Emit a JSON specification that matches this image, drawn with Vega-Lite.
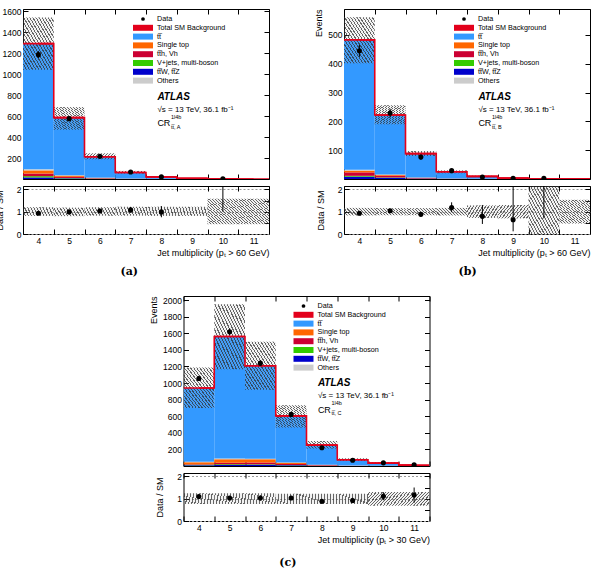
{
  "$schema": "https://vega.github.io/schema/vega-lite/v6.json",
  "padding": {"left": -12, "top": 6, "right": 0, "bottom": 0},
  "datasets": {
    "regionA": [
      {"bin": 4, "ttbar": 1198, "singletop": 30, "tth": 25, "vjets": 12, "ttv": 15, "others": 10, "sm": 1290, "smLo": 1040, "smHi": 1540, "data": 1185, "dataLo": 1151, "dataHi": 1219, "ratio": 0.93, "ratioLo": 0.9, "ratioHi": 0.96, "bandLo": 0.81, "bandHi": 1.2},
      {"bin": 5, "ttbar": 549, "singletop": 12, "tth": 10, "vjets": 4, "ttv": 6, "others": 4, "sm": 585, "smLo": 470, "smHi": 685, "data": 575, "dataLo": 551, "dataHi": 599, "ratio": 0.99, "ratioLo": 0.95, "ratioHi": 1.03, "bandLo": 0.8, "bandHi": 1.18},
      {"bin": 6, "ttbar": 199, "singletop": 4, "tth": 4, "vjets": 1.5, "ttv": 2, "others": 1.5, "sm": 212, "smLo": 188, "smHi": 245, "data": 216, "dataLo": 201, "dataHi": 231, "ratio": 1.03, "ratioLo": 0.96, "ratioHi": 1.1, "bandLo": 0.82, "bandHi": 1.2},
      {"bin": 7, "ttbar": 57.6, "singletop": 1.2, "tth": 1.5, "vjets": 0.5, "ttv": 0.7, "others": 0.5, "sm": 62, "smLo": 52, "smHi": 77, "data": 66, "dataLo": 58, "dataHi": 74, "ratio": 1.08, "ratioLo": 0.95, "ratioHi": 1.21, "bandLo": 0.82, "bandHi": 1.22},
      {"bin": 8, "ttbar": 18.4, "singletop": 0.4, "tth": 0.5, "vjets": 0.2, "ttv": 0.3, "others": 0.2, "sm": 20, "smLo": 15, "smHi": 26, "data": 20, "dataLo": 15.5, "dataHi": 24.5, "ratio": 0.99, "ratioLo": 0.75, "ratioHi": 1.25, "bandLo": 0.81, "bandHi": 1.22},
      {"bin": 9, "ttbar": 5.05, "singletop": 0.1, "tth": 0.15, "vjets": 0.05, "ttv": 0.1, "others": 0.05, "sm": 5.5, "smLo": 4, "smHi": 7, "bandLo": 0.81, "bandHi": 1.22},
      {"bin": 10, "ttbar": 1.05, "singletop": 0.03, "tth": 0.05, "vjets": 0.02, "ttv": 0.03, "others": 0.02, "sm": 1.2, "smLo": 0.6, "smHi": 1.8, "data": 3, "dataLo": 1.3, "dataHi": 5.4, "ratio": 2.5, "ratioLo": 1.0, "ratioHi": 4.5, "bandLo": 0.44, "bandHi": 1.58},
      {"bin": 11, "ttbar": 0.44, "singletop": 0.01, "tth": 0.02, "vjets": 0.01, "ttv": 0.01, "others": 0.01, "sm": 0.5, "smLo": 0.25, "smHi": 0.75, "bandLo": 0.44, "bandHi": 1.58}
    ],
    "regionB": [
      {"bin": 4, "ttbar": 451, "singletop": 6, "tth": 12, "vjets": 3, "ttv": 8, "others": 3, "sm": 483, "smLo": 402, "smHi": 561, "data": 445, "dataLo": 424, "dataHi": 466, "ratio": 0.93, "ratioLo": 0.89, "ratioHi": 0.97, "bandLo": 0.83, "bandHi": 1.17},
      {"bin": 5, "ttbar": 206, "singletop": 3, "tth": 6, "vjets": 1.5, "ttv": 4, "others": 1.5, "sm": 222, "smLo": 190, "smHi": 256, "data": 229, "dataLo": 214, "dataHi": 244, "ratio": 1.04, "ratioLo": 0.97, "ratioHi": 1.11, "bandLo": 0.84, "bandHi": 1.16},
      {"bin": 6, "ttbar": 82.8, "singletop": 1, "tth": 2, "vjets": 0.5, "ttv": 1.2, "others": 0.5, "sm": 88, "smLo": 80, "smHi": 97, "data": 76, "dataLo": 67, "dataHi": 85, "ratio": 0.88, "ratioLo": 0.78, "ratioHi": 0.98, "bandLo": 0.84, "bandHi": 1.16},
      {"bin": 7, "ttbar": 23.2, "singletop": 0.3, "tth": 0.7, "vjets": 0.2, "ttv": 0.4, "others": 0.2, "sm": 25, "smLo": 20, "smHi": 30, "data": 29, "dataLo": 23.6, "dataHi": 34.4, "ratio": 1.19, "ratioLo": 0.98, "ratioHi": 1.42, "bandLo": 0.83, "bandHi": 1.17},
      {"bin": 8, "ttbar": 8.36, "singletop": 0.1, "tth": 0.25, "vjets": 0.07, "ttv": 0.15, "others": 0.07, "sm": 9, "smLo": 6.5, "smHi": 11.5, "data": 7, "dataLo": 4.4, "dataHi": 9.6, "ratio": 0.79, "ratioLo": 0.45, "ratioHi": 1.3, "bandLo": 0.72, "bandHi": 1.28},
      {"bin": 9, "ttbar": 2.8, "singletop": 0.03, "tth": 0.08, "vjets": 0.02, "ttv": 0.05, "others": 0.02, "sm": 3, "smLo": 2.1, "smHi": 3.9, "data": 2, "dataLo": 0.6, "dataHi": 3.4, "ratio": 0.64, "ratioLo": 0.12, "ratioHi": 2.3, "bandLo": 0.7, "bandHi": 1.3},
      {"bin": 10, "ttbar": 0.72, "singletop": 0.01, "tth": 0.03, "vjets": 0.01, "ttv": 0.02, "others": 0.01, "sm": 0.8, "smLo": 0, "smHi": 1.8, "data": 2, "dataLo": 0.6, "dataHi": 3.4, "ratio": 2.5, "ratioLo": 0.7, "ratioHi": 5, "bandLo": 0, "bandHi": 2.5},
      {"bin": 11, "ttbar": 0.33, "singletop": 0, "tth": 0.01, "vjets": 0, "ttv": 0.01, "others": 0, "sm": 0.35, "smLo": 0.17, "smHi": 0.53, "bandLo": 0.47, "bandHi": 1.53}
    ],
    "regionC": [
      {"bin": 4, "ttbar": 890, "singletop": 22, "tth": 8, "vjets": 6, "ttv": 8, "others": 6, "sm": 940, "smLo": 698, "smHi": 1189, "data": 1056, "dataLo": 1024, "dataHi": 1088, "ratio": 1.1, "ratioLo": 1.07, "ratioHi": 1.13, "bandLo": 0.76, "bandHi": 1.24},
      {"bin": 5, "ttbar": 1472, "singletop": 44, "tth": 18, "vjets": 8, "ttv": 12, "others": 8, "sm": 1562, "smLo": 1168, "smHi": 1952, "data": 1618, "dataLo": 1578, "dataHi": 1658, "ratio": 1.03, "ratioLo": 1.0, "ratioHi": 1.06, "bandLo": 0.76, "bandHi": 1.24},
      {"bin": 6, "ttbar": 1120, "singletop": 38, "tth": 22, "vjets": 7, "ttv": 14, "others": 7, "sm": 1208, "smLo": 919, "smHi": 1497, "data": 1240, "dataLo": 1205, "dataHi": 1275, "ratio": 1.03, "ratioLo": 0.99, "ratioHi": 1.07, "bandLo": 0.76, "bandHi": 1.24},
      {"bin": 7, "ttbar": 563, "singletop": 16, "tth": 12, "vjets": 3, "ttv": 8, "others": 3, "sm": 605, "smLo": 465, "smHi": 734, "data": 622, "dataLo": 597, "dataHi": 647, "ratio": 1.03, "ratioLo": 0.98, "ratioHi": 1.08, "bandLo": 0.76, "bandHi": 1.22},
      {"bin": 8, "ttbar": 237, "singletop": 5, "tth": 5, "vjets": 1, "ttv": 3, "others": 1, "sm": 252, "smLo": 212, "smHi": 300, "data": 220, "dataLo": 205, "dataHi": 235, "ratio": 0.88, "ratioLo": 0.81, "ratioHi": 0.95, "bandLo": 0.76, "bandHi": 1.22},
      {"bin": 9, "ttbar": 70.4, "singletop": 1.5, "tth": 1.5, "vjets": 0.3, "ttv": 1, "others": 0.3, "sm": 75, "smLo": 59, "smHi": 92, "data": 70, "dataLo": 61.6, "dataHi": 78.4, "ratio": 0.92, "ratioLo": 0.8, "ratioHi": 1.04, "bandLo": 0.76, "bandHi": 1.22},
      {"bin": 10, "ttbar": 32.9, "singletop": 0.6, "tth": 0.7, "vjets": 0.15, "ttv": 0.5, "others": 0.15, "sm": 35, "smLo": 25, "smHi": 45, "data": 38, "dataLo": 31.8, "dataHi": 44.2, "ratio": 1.11, "ratioLo": 0.93, "ratioHi": 1.29, "bandLo": 0.68, "bandHi": 1.3},
      {"bin": 11, "ttbar": 10.25, "singletop": 0.2, "tth": 0.25, "vjets": 0.05, "ttv": 0.2, "others": 0.05, "sm": 11, "smLo": 7, "smHi": 15, "data": 13, "dataLo": 9.4, "dataHi": 16.6, "ratio": 1.16, "ratioLo": 0.82, "ratioHi": 1.5, "bandLo": 0.68, "bandHi": 1.3}
    ]
  },
  "vconcat": [
    {
      "hconcat": [
        {
          "title": {"text": "(a)", "orient": "bottom", "anchor": "middle", "frame": "bounds", "offset": 8, "dx": 0},
          "vconcat": [
            {
              "width": 246, "height": 170,
              "data": {"name": "regionA"},
              "layer": [
                {
                  "transform": [
                    {"fold": ["ttv", "vjets", "tth", "singletop", "others", "ttbar"], "as": ["process", "n"]},
                    {"window": [{"op": "row_number", "as": "k"}], "groupby": ["bin"]}
                  ],
                  "mark": {"type": "bar", "clip": true},
                  "encoding": {
                    "x": {"field": "bin", "type": "ordinal", "scale": {"domain": [4, 5, 6, 7, 8, 9, 10, 11], "paddingInner": 0, "paddingOuter": 0}, "axis": {"orient": "bottom", "labels": false, "title": null, "tickBand": "extent", "tickExtra": true}},
                    "y": {"field": "n", "type": "quantitative", "stack": "zero", "scale": {"domain": [0, 1620], "nice": false}, "axis": {"orient": "left", "format": "d", "values": [200, 400, 600, 800, 1000, 1200, 1400, 1600], "title": "Events", "titleAnchor": "end", "titlePadding": 4}},
                    "color": {"field": "process", "type": "nominal",
                      "scale": {"domain": ["data", "total", "ttbar", "singletop", "tth", "vjets", "ttv", "others"], "range": ["#000000", "#e3001b", "#3399ff", "#ff6600", "#cc0033", "#33cc00", "#0000cc", "#cccccc"]},
                      "legend": {"title": null, "orient": "none", "legendX": 116, "legendY": 6,
                        "labelExpr": "({'data': 'Data', 'total': 'Total SM Background', 'ttbar': 'tt\u0305', 'singletop': 'Single top', 'tth': 'tt\u0305h, Vh', 'vjets': 'V+jets, multi-boson', 'ttv': 'tt\u0305W, tt\u0305Z', 'others': 'Others'})[datum.value]",
                        "encode": {"symbols": {"update": {
                          "shape": {"signal": "datum.value === 'data' ? 'circle' : 'M-2.5,-0.75H2.5V0.75H-2.5Z'"},
                          "size": {"signal": "datum.value === 'data' ? 14 : 64"},
                          "fill": {"signal": "datum.value === 'total' ? {gradient: 'linear', x1: 0, y1: 1, x2: 1, y2: 0, stops: [{offset: 0, color: '#e3001b'}, {offset: 0.05, color: '#e3001b'}, {offset: 0.05, color: '#ffffff'}, {offset: 0.1667, color: '#ffffff'}, {offset: 0.1667, color: '#e3001b'}, {offset: 0.2167, color: '#e3001b'}, {offset: 0.2167, color: '#ffffff'}, {offset: 0.3333, color: '#ffffff'}, {offset: 0.3333, color: '#e3001b'}, {offset: 0.3833, color: '#e3001b'}, {offset: 0.3833, color: '#ffffff'}, {offset: 0.5, color: '#ffffff'}, {offset: 0.5, color: '#e3001b'}, {offset: 0.55, color: '#e3001b'}, {offset: 0.55, color: '#ffffff'}, {offset: 0.6667, color: '#ffffff'}, {offset: 0.6667, color: '#e3001b'}, {offset: 0.7167, color: '#e3001b'}, {offset: 0.7167, color: '#ffffff'}, {offset: 0.8333, color: '#ffffff'}, {offset: 0.8333, color: '#e3001b'}, {offset: 0.8833, color: '#e3001b'}, {offset: 0.8833, color: '#ffffff'}, {offset: 1, color: '#ffffff'}]} : datum.value === 'data' ? '#000000' : datum.value === 'ttbar' ? '#3399ff' : datum.value === 'singletop' ? '#ff6600' : datum.value === 'tth' ? '#cc0033' : datum.value === 'vjets' ? '#33cc00' : datum.value === 'ttv' ? '#0000cc' : '#cccccc'"},
                          "strokeWidth": {"value": 0},
                          "opacity": {"value": 1}
                        }}}
                      }
                    },
                    "order": {"field": "k", "type": "quantitative"}
                  }
                },
                {
                  "mark": {"type": "bar", "clip": true, "fill": {"gradient": "linear", "x1": 0, "y1": 1, "x2": 1, "y2": 0, "stops": [{"offset": 0, "color": "rgba(50,50,50,0.75)"}, {"offset": 0.018, "color": "rgba(50,50,50,0.75)"}, {"offset": 0.018, "color": "rgba(170,170,170,0.15)"}, {"offset": 0.05, "color": "rgba(170,170,170,0.15)"}, {"offset": 0.05, "color": "rgba(50,50,50,0.75)"}, {"offset": 0.068, "color": "rgba(50,50,50,0.75)"}, {"offset": 0.068, "color": "rgba(170,170,170,0.15)"}, {"offset": 0.1, "color": "rgba(170,170,170,0.15)"}, {"offset": 0.1, "color": "rgba(50,50,50,0.75)"}, {"offset": 0.118, "color": "rgba(50,50,50,0.75)"}, {"offset": 0.118, "color": "rgba(170,170,170,0.15)"}, {"offset": 0.15, "color": "rgba(170,170,170,0.15)"}, {"offset": 0.15, "color": "rgba(50,50,50,0.75)"}, {"offset": 0.168, "color": "rgba(50,50,50,0.75)"}, {"offset": 0.168, "color": "rgba(170,170,170,0.15)"}, {"offset": 0.2, "color": "rgba(170,170,170,0.15)"}, {"offset": 0.2, "color": "rgba(50,50,50,0.75)"}, {"offset": 0.218, "color": "rgba(50,50,50,0.75)"}, {"offset": 0.218, "color": "rgba(170,170,170,0.15)"}, {"offset": 0.25, "color": "rgba(170,170,170,0.15)"}, {"offset": 0.25, "color": "rgba(50,50,50,0.75)"}, {"offset": 0.268, "color": "rgba(50,50,50,0.75)"}, {"offset": 0.268, "color": "rgba(170,170,170,0.15)"}, {"offset": 0.3, "color": "rgba(170,170,170,0.15)"}, {"offset": 0.3, "color": "rgba(50,50,50,0.75)"}, {"offset": 0.318, "color": "rgba(50,50,50,0.75)"}, {"offset": 0.318, "color": "rgba(170,170,170,0.15)"}, {"offset": 0.35, "color": "rgba(170,170,170,0.15)"}, {"offset": 0.35, "color": "rgba(50,50,50,0.75)"}, {"offset": 0.368, "color": "rgba(50,50,50,0.75)"}, {"offset": 0.368, "color": "rgba(170,170,170,0.15)"}, {"offset": 0.4, "color": "rgba(170,170,170,0.15)"}, {"offset": 0.4, "color": "rgba(50,50,50,0.75)"}, {"offset": 0.418, "color": "rgba(50,50,50,0.75)"}, {"offset": 0.418, "color": "rgba(170,170,170,0.15)"}, {"offset": 0.45, "color": "rgba(170,170,170,0.15)"}, {"offset": 0.45, "color": "rgba(50,50,50,0.75)"}, {"offset": 0.468, "color": "rgba(50,50,50,0.75)"}, {"offset": 0.468, "color": "rgba(170,170,170,0.15)"}, {"offset": 0.5, "color": "rgba(170,170,170,0.15)"}, {"offset": 0.5, "color": "rgba(50,50,50,0.75)"}, {"offset": 0.518, "color": "rgba(50,50,50,0.75)"}, {"offset": 0.518, "color": "rgba(170,170,170,0.15)"}, {"offset": 0.55, "color": "rgba(170,170,170,0.15)"}, {"offset": 0.55, "color": "rgba(50,50,50,0.75)"}, {"offset": 0.568, "color": "rgba(50,50,50,0.75)"}, {"offset": 0.568, "color": "rgba(170,170,170,0.15)"}, {"offset": 0.6, "color": "rgba(170,170,170,0.15)"}, {"offset": 0.6, "color": "rgba(50,50,50,0.75)"}, {"offset": 0.618, "color": "rgba(50,50,50,0.75)"}, {"offset": 0.618, "color": "rgba(170,170,170,0.15)"}, {"offset": 0.65, "color": "rgba(170,170,170,0.15)"}, {"offset": 0.65, "color": "rgba(50,50,50,0.75)"}, {"offset": 0.668, "color": "rgba(50,50,50,0.75)"}, {"offset": 0.668, "color": "rgba(170,170,170,0.15)"}, {"offset": 0.7, "color": "rgba(170,170,170,0.15)"}, {"offset": 0.7, "color": "rgba(50,50,50,0.75)"}, {"offset": 0.718, "color": "rgba(50,50,50,0.75)"}, {"offset": 0.718, "color": "rgba(170,170,170,0.15)"}, {"offset": 0.75, "color": "rgba(170,170,170,0.15)"}, {"offset": 0.75, "color": "rgba(50,50,50,0.75)"}, {"offset": 0.768, "color": "rgba(50,50,50,0.75)"}, {"offset": 0.768, "color": "rgba(170,170,170,0.15)"}, {"offset": 0.8, "color": "rgba(170,170,170,0.15)"}, {"offset": 0.8, "color": "rgba(50,50,50,0.75)"}, {"offset": 0.818, "color": "rgba(50,50,50,0.75)"}, {"offset": 0.818, "color": "rgba(170,170,170,0.15)"}, {"offset": 0.85, "color": "rgba(170,170,170,0.15)"}, {"offset": 0.85, "color": "rgba(50,50,50,0.75)"}, {"offset": 0.868, "color": "rgba(50,50,50,0.75)"}, {"offset": 0.868, "color": "rgba(170,170,170,0.15)"}, {"offset": 0.9, "color": "rgba(170,170,170,0.15)"}, {"offset": 0.9, "color": "rgba(50,50,50,0.75)"}, {"offset": 0.918, "color": "rgba(50,50,50,0.75)"}, {"offset": 0.918, "color": "rgba(170,170,170,0.15)"}, {"offset": 0.95, "color": "rgba(170,170,170,0.15)"}, {"offset": 0.95, "color": "rgba(50,50,50,0.75)"}, {"offset": 0.968, "color": "rgba(50,50,50,0.75)"}, {"offset": 0.968, "color": "rgba(170,170,170,0.15)"}, {"offset": 1, "color": "rgba(170,170,170,0.15)"}]}},
                  "encoding": {
                    "x": {"field": "bin", "type": "ordinal", "axis": {"orient": "top", "labels": false, "title": null, "tickBand": "extent", "tickExtra": true}},
                    "y": {"field": "smLo", "type": "quantitative", "axis": {"orient": "right", "values": [200, 400, 600, 800, 1000, 1200, 1400, 1600], "labels": false, "title": null}},
                    "y2": {"field": "smHi"}
                  }
                },
                {
                  "mark": {"type": "line", "interpolate": "step", "color": "#e3001b", "strokeWidth": 1.6, "clip": true},
                  "encoding": {"x": {"field": "bin", "type": "ordinal", "axis": null}, "y": {"field": "sm", "type": "quantitative", "axis": null}}
                },
                {
                  "mark": {"type": "bar", "filled": false, "color": "#e3001b", "strokeWidth": 1.6, "clip": true},
                  "encoding": {"x": {"field": "bin", "type": "ordinal", "axis": null}, "y": {"field": "sm", "type": "quantitative", "axis": null}, "y2": {"field": "sm"}}
                },
                {
                  "transform": [{"filter": "datum.data != null"}],
                  "mark": {"type": "rule", "color": "black", "strokeWidth": 1, "clip": true},
                  "encoding": {"x": {"field": "bin", "type": "ordinal", "axis": null}, "y": {"field": "dataLo", "type": "quantitative", "axis": null}, "y2": {"field": "dataHi"}}
                },
                {
                  "transform": [{"filter": "datum.data != null"}],
                  "mark": {"type": "circle", "color": "black", "size": 26, "opacity": 1, "clip": true},
                  "encoding": {"x": {"field": "bin", "type": "ordinal", "axis": null}, "y": {"field": "data", "type": "quantitative", "axis": null}}
                },
                {
                  "data": {"values": [{}]},
                  "mark": {"type": "text", "text": "ATLAS", "fontSize": 10, "fontWeight": "bold", "fontStyle": "italic", "align": "left", "baseline": "alphabetic", "dx": -4},
                  "encoding": {"x": {"datum": 8, "type": "ordinal", "axis": null}, "y": {"datum": 757, "type": "quantitative", "axis": null}}
                },
                {
                  "data": {"values": [{}]},
                  "mark": {"type": "text", "text": "\u221as = 13 TeV, 36.1 fb\u207b\u00b9", "fontSize": 8, "align": "left", "baseline": "alphabetic", "dx": -4, "dy": 12},
                  "encoding": {"x": {"datum": 8, "type": "ordinal", "axis": null}, "y": {"datum": 757, "type": "quantitative", "axis": null}}
                },
                {
                  "data": {"values": [{}]},
                  "mark": {"type": "text", "text": "CR", "fontSize": 9, "align": "left", "baseline": "alphabetic", "dx": -4, "dy": 26.7},
                  "encoding": {"x": {"datum": 8, "type": "ordinal", "axis": null}, "y": {"datum": 757, "type": "quantitative", "axis": null}}
                },
                {
                  "data": {"values": [{}]},
                  "mark": {"type": "text", "text": "1l4b", "fontSize": 5.5, "align": "left", "baseline": "alphabetic", "dx": 9.5, "dy": 19},
                  "encoding": {"x": {"datum": 8, "type": "ordinal", "axis": null}, "y": {"datum": 757, "type": "quantitative", "axis": null}}
                },
                {
                  "data": {"values": [{}]},
                  "mark": {"type": "text", "text": "tt\u0305, A", "fontSize": 5.5, "align": "left", "baseline": "alphabetic", "dx": 9.5, "dy": 29},
                  "encoding": {"x": {"datum": 8, "type": "ordinal", "axis": null}, "y": {"datum": 757, "type": "quantitative", "axis": null}}
                }
              ],
              "resolve": {"axis": {"x": "independent", "y": "independent"}}
            },
            {
              "width": 246, "height": 48,
              "data": {"name": "regionA"},
              "layer": [
                {
                  "mark": {"type": "bar", "clip": true, "fill": {"gradient": "linear", "x1": 0, "y1": 1, "x2": 1, "y2": 0, "stops": [{"offset": 0, "color": "rgba(50,50,50,0.75)"}, {"offset": 0.018, "color": "rgba(50,50,50,0.75)"}, {"offset": 0.018, "color": "rgba(170,170,170,0.15)"}, {"offset": 0.05, "color": "rgba(170,170,170,0.15)"}, {"offset": 0.05, "color": "rgba(50,50,50,0.75)"}, {"offset": 0.068, "color": "rgba(50,50,50,0.75)"}, {"offset": 0.068, "color": "rgba(170,170,170,0.15)"}, {"offset": 0.1, "color": "rgba(170,170,170,0.15)"}, {"offset": 0.1, "color": "rgba(50,50,50,0.75)"}, {"offset": 0.118, "color": "rgba(50,50,50,0.75)"}, {"offset": 0.118, "color": "rgba(170,170,170,0.15)"}, {"offset": 0.15, "color": "rgba(170,170,170,0.15)"}, {"offset": 0.15, "color": "rgba(50,50,50,0.75)"}, {"offset": 0.168, "color": "rgba(50,50,50,0.75)"}, {"offset": 0.168, "color": "rgba(170,170,170,0.15)"}, {"offset": 0.2, "color": "rgba(170,170,170,0.15)"}, {"offset": 0.2, "color": "rgba(50,50,50,0.75)"}, {"offset": 0.218, "color": "rgba(50,50,50,0.75)"}, {"offset": 0.218, "color": "rgba(170,170,170,0.15)"}, {"offset": 0.25, "color": "rgba(170,170,170,0.15)"}, {"offset": 0.25, "color": "rgba(50,50,50,0.75)"}, {"offset": 0.268, "color": "rgba(50,50,50,0.75)"}, {"offset": 0.268, "color": "rgba(170,170,170,0.15)"}, {"offset": 0.3, "color": "rgba(170,170,170,0.15)"}, {"offset": 0.3, "color": "rgba(50,50,50,0.75)"}, {"offset": 0.318, "color": "rgba(50,50,50,0.75)"}, {"offset": 0.318, "color": "rgba(170,170,170,0.15)"}, {"offset": 0.35, "color": "rgba(170,170,170,0.15)"}, {"offset": 0.35, "color": "rgba(50,50,50,0.75)"}, {"offset": 0.368, "color": "rgba(50,50,50,0.75)"}, {"offset": 0.368, "color": "rgba(170,170,170,0.15)"}, {"offset": 0.4, "color": "rgba(170,170,170,0.15)"}, {"offset": 0.4, "color": "rgba(50,50,50,0.75)"}, {"offset": 0.418, "color": "rgba(50,50,50,0.75)"}, {"offset": 0.418, "color": "rgba(170,170,170,0.15)"}, {"offset": 0.45, "color": "rgba(170,170,170,0.15)"}, {"offset": 0.45, "color": "rgba(50,50,50,0.75)"}, {"offset": 0.468, "color": "rgba(50,50,50,0.75)"}, {"offset": 0.468, "color": "rgba(170,170,170,0.15)"}, {"offset": 0.5, "color": "rgba(170,170,170,0.15)"}, {"offset": 0.5, "color": "rgba(50,50,50,0.75)"}, {"offset": 0.518, "color": "rgba(50,50,50,0.75)"}, {"offset": 0.518, "color": "rgba(170,170,170,0.15)"}, {"offset": 0.55, "color": "rgba(170,170,170,0.15)"}, {"offset": 0.55, "color": "rgba(50,50,50,0.75)"}, {"offset": 0.568, "color": "rgba(50,50,50,0.75)"}, {"offset": 0.568, "color": "rgba(170,170,170,0.15)"}, {"offset": 0.6, "color": "rgba(170,170,170,0.15)"}, {"offset": 0.6, "color": "rgba(50,50,50,0.75)"}, {"offset": 0.618, "color": "rgba(50,50,50,0.75)"}, {"offset": 0.618, "color": "rgba(170,170,170,0.15)"}, {"offset": 0.65, "color": "rgba(170,170,170,0.15)"}, {"offset": 0.65, "color": "rgba(50,50,50,0.75)"}, {"offset": 0.668, "color": "rgba(50,50,50,0.75)"}, {"offset": 0.668, "color": "rgba(170,170,170,0.15)"}, {"offset": 0.7, "color": "rgba(170,170,170,0.15)"}, {"offset": 0.7, "color": "rgba(50,50,50,0.75)"}, {"offset": 0.718, "color": "rgba(50,50,50,0.75)"}, {"offset": 0.718, "color": "rgba(170,170,170,0.15)"}, {"offset": 0.75, "color": "rgba(170,170,170,0.15)"}, {"offset": 0.75, "color": "rgba(50,50,50,0.75)"}, {"offset": 0.768, "color": "rgba(50,50,50,0.75)"}, {"offset": 0.768, "color": "rgba(170,170,170,0.15)"}, {"offset": 0.8, "color": "rgba(170,170,170,0.15)"}, {"offset": 0.8, "color": "rgba(50,50,50,0.75)"}, {"offset": 0.818, "color": "rgba(50,50,50,0.75)"}, {"offset": 0.818, "color": "rgba(170,170,170,0.15)"}, {"offset": 0.85, "color": "rgba(170,170,170,0.15)"}, {"offset": 0.85, "color": "rgba(50,50,50,0.75)"}, {"offset": 0.868, "color": "rgba(50,50,50,0.75)"}, {"offset": 0.868, "color": "rgba(170,170,170,0.15)"}, {"offset": 0.9, "color": "rgba(170,170,170,0.15)"}, {"offset": 0.9, "color": "rgba(50,50,50,0.75)"}, {"offset": 0.918, "color": "rgba(50,50,50,0.75)"}, {"offset": 0.918, "color": "rgba(170,170,170,0.15)"}, {"offset": 0.95, "color": "rgba(170,170,170,0.15)"}, {"offset": 0.95, "color": "rgba(50,50,50,0.75)"}, {"offset": 0.968, "color": "rgba(50,50,50,0.75)"}, {"offset": 0.968, "color": "rgba(170,170,170,0.15)"}, {"offset": 1, "color": "rgba(170,170,170,0.15)"}]}},
                  "encoding": {
                    "x": {"field": "bin", "type": "ordinal", "scale": {"domain": [4, 5, 6, 7, 8, 9, 10, 11], "paddingInner": 0, "paddingOuter": 0}, "axis": {"orient": "bottom", "labelAngle": 0, "title": "Jet multiplicity (p\u209c > 60 GeV)", "titleAnchor": "end", "tickBand": "extent", "tickExtra": true}},
                    "y": {"field": "bandLo", "type": "quantitative", "scale": {"domain": [0, 2.15], "nice": false}, "axis": {"orient": "left", "format": "d", "values": [0, 0.5, 1, 1.5, 2], "labelExpr": "datum.value % 1 === 0 ? datum.label : ''", "grid": true, "gridDash": [2, 2], "gridColor": "#999999", "title": "Data / SM", "titlePadding": 12}},
                    "y2": {"field": "bandHi"}
                  }
                },
                {
                  "transform": [{"filter": "datum.ratio != null"}],
                  "mark": {"type": "rule", "color": "black", "strokeWidth": 1, "clip": true},
                  "encoding": {
                    "x": {"field": "bin", "type": "ordinal", "axis": {"orient": "top", "labels": false, "title": null, "tickBand": "extent", "tickExtra": true}},
                    "y": {"field": "ratioLo", "type": "quantitative", "axis": {"orient": "right", "values": [0.5, 1, 1.5, 2], "labels": false, "title": null}},
                    "y2": {"field": "ratioHi"}
                  }
                },
                {
                  "transform": [{"filter": "datum.ratio != null"}],
                  "mark": {"type": "circle", "color": "black", "size": 26, "opacity": 1, "clip": true},
                  "encoding": {"x": {"field": "bin", "type": "ordinal", "axis": null}, "y": {"field": "ratio", "type": "quantitative", "axis": null}}
                }
              ],
              "resolve": {"axis": {"x": "independent", "y": "independent"}}
            }
          ],
          "spacing": 4,
          "resolve": {"scale": {"color": "independent"}, "legend": {"color": "independent"}}
        },
        {
          "title": {"text": "(b)", "orient": "bottom", "anchor": "middle", "frame": "bounds", "offset": 8, "dx": 15},
          "vconcat": [
            {
              "width": 246, "height": 170,
              "data": {"name": "regionB"},
              "layer": [
                {
                  "transform": [
                    {"fold": ["ttv", "vjets", "tth", "singletop", "others", "ttbar"], "as": ["process", "n"]},
                    {"window": [{"op": "row_number", "as": "k"}], "groupby": ["bin"]}
                  ],
                  "mark": {"type": "bar", "clip": true},
                  "encoding": {
                    "x": {"field": "bin", "type": "ordinal", "scale": {"domain": [4, 5, 6, 7, 8, 9, 10, 11], "paddingInner": 0, "paddingOuter": 0}, "axis": {"orient": "bottom", "labels": false, "title": null, "tickBand": "extent", "tickExtra": true}},
                    "y": {"field": "n", "type": "quantitative", "stack": "zero", "scale": {"domain": [0, 590], "nice": false}, "axis": {"orient": "left", "format": "d", "values": [100, 200, 300, 400, 500], "title": "Events", "titleAnchor": "end", "titlePadding": 4}},
                    "color": {"field": "process", "type": "nominal",
                      "scale": {"domain": ["data", "total", "ttbar", "singletop", "tth", "vjets", "ttv", "others"], "range": ["#000000", "#e3001b", "#3399ff", "#ff6600", "#cc0033", "#33cc00", "#0000cc", "#cccccc"]},
                      "legend": {"title": null, "orient": "none", "legendX": 116, "legendY": 6,
                        "labelExpr": "({'data': 'Data', 'total': 'Total SM Background', 'ttbar': 'tt\u0305', 'singletop': 'Single top', 'tth': 'tt\u0305h, Vh', 'vjets': 'V+jets, multi-boson', 'ttv': 'tt\u0305W, tt\u0305Z', 'others': 'Others'})[datum.value]",
                        "encode": {"symbols": {"update": {
                          "shape": {"signal": "datum.value === 'data' ? 'circle' : 'M-2.5,-0.75H2.5V0.75H-2.5Z'"},
                          "size": {"signal": "datum.value === 'data' ? 14 : 64"},
                          "fill": {"signal": "datum.value === 'total' ? {gradient: 'linear', x1: 0, y1: 1, x2: 1, y2: 0, stops: [{offset: 0, color: '#e3001b'}, {offset: 0.05, color: '#e3001b'}, {offset: 0.05, color: '#ffffff'}, {offset: 0.1667, color: '#ffffff'}, {offset: 0.1667, color: '#e3001b'}, {offset: 0.2167, color: '#e3001b'}, {offset: 0.2167, color: '#ffffff'}, {offset: 0.3333, color: '#ffffff'}, {offset: 0.3333, color: '#e3001b'}, {offset: 0.3833, color: '#e3001b'}, {offset: 0.3833, color: '#ffffff'}, {offset: 0.5, color: '#ffffff'}, {offset: 0.5, color: '#e3001b'}, {offset: 0.55, color: '#e3001b'}, {offset: 0.55, color: '#ffffff'}, {offset: 0.6667, color: '#ffffff'}, {offset: 0.6667, color: '#e3001b'}, {offset: 0.7167, color: '#e3001b'}, {offset: 0.7167, color: '#ffffff'}, {offset: 0.8333, color: '#ffffff'}, {offset: 0.8333, color: '#e3001b'}, {offset: 0.8833, color: '#e3001b'}, {offset: 0.8833, color: '#ffffff'}, {offset: 1, color: '#ffffff'}]} : datum.value === 'data' ? '#000000' : datum.value === 'ttbar' ? '#3399ff' : datum.value === 'singletop' ? '#ff6600' : datum.value === 'tth' ? '#cc0033' : datum.value === 'vjets' ? '#33cc00' : datum.value === 'ttv' ? '#0000cc' : '#cccccc'"},
                          "strokeWidth": {"value": 0},
                          "opacity": {"value": 1}
                        }}}
                      }
                    },
                    "order": {"field": "k", "type": "quantitative"}
                  }
                },
                {
                  "mark": {"type": "bar", "clip": true, "fill": {"gradient": "linear", "x1": 0, "y1": 1, "x2": 1, "y2": 0, "stops": [{"offset": 0, "color": "rgba(50,50,50,0.75)"}, {"offset": 0.018, "color": "rgba(50,50,50,0.75)"}, {"offset": 0.018, "color": "rgba(170,170,170,0.15)"}, {"offset": 0.05, "color": "rgba(170,170,170,0.15)"}, {"offset": 0.05, "color": "rgba(50,50,50,0.75)"}, {"offset": 0.068, "color": "rgba(50,50,50,0.75)"}, {"offset": 0.068, "color": "rgba(170,170,170,0.15)"}, {"offset": 0.1, "color": "rgba(170,170,170,0.15)"}, {"offset": 0.1, "color": "rgba(50,50,50,0.75)"}, {"offset": 0.118, "color": "rgba(50,50,50,0.75)"}, {"offset": 0.118, "color": "rgba(170,170,170,0.15)"}, {"offset": 0.15, "color": "rgba(170,170,170,0.15)"}, {"offset": 0.15, "color": "rgba(50,50,50,0.75)"}, {"offset": 0.168, "color": "rgba(50,50,50,0.75)"}, {"offset": 0.168, "color": "rgba(170,170,170,0.15)"}, {"offset": 0.2, "color": "rgba(170,170,170,0.15)"}, {"offset": 0.2, "color": "rgba(50,50,50,0.75)"}, {"offset": 0.218, "color": "rgba(50,50,50,0.75)"}, {"offset": 0.218, "color": "rgba(170,170,170,0.15)"}, {"offset": 0.25, "color": "rgba(170,170,170,0.15)"}, {"offset": 0.25, "color": "rgba(50,50,50,0.75)"}, {"offset": 0.268, "color": "rgba(50,50,50,0.75)"}, {"offset": 0.268, "color": "rgba(170,170,170,0.15)"}, {"offset": 0.3, "color": "rgba(170,170,170,0.15)"}, {"offset": 0.3, "color": "rgba(50,50,50,0.75)"}, {"offset": 0.318, "color": "rgba(50,50,50,0.75)"}, {"offset": 0.318, "color": "rgba(170,170,170,0.15)"}, {"offset": 0.35, "color": "rgba(170,170,170,0.15)"}, {"offset": 0.35, "color": "rgba(50,50,50,0.75)"}, {"offset": 0.368, "color": "rgba(50,50,50,0.75)"}, {"offset": 0.368, "color": "rgba(170,170,170,0.15)"}, {"offset": 0.4, "color": "rgba(170,170,170,0.15)"}, {"offset": 0.4, "color": "rgba(50,50,50,0.75)"}, {"offset": 0.418, "color": "rgba(50,50,50,0.75)"}, {"offset": 0.418, "color": "rgba(170,170,170,0.15)"}, {"offset": 0.45, "color": "rgba(170,170,170,0.15)"}, {"offset": 0.45, "color": "rgba(50,50,50,0.75)"}, {"offset": 0.468, "color": "rgba(50,50,50,0.75)"}, {"offset": 0.468, "color": "rgba(170,170,170,0.15)"}, {"offset": 0.5, "color": "rgba(170,170,170,0.15)"}, {"offset": 0.5, "color": "rgba(50,50,50,0.75)"}, {"offset": 0.518, "color": "rgba(50,50,50,0.75)"}, {"offset": 0.518, "color": "rgba(170,170,170,0.15)"}, {"offset": 0.55, "color": "rgba(170,170,170,0.15)"}, {"offset": 0.55, "color": "rgba(50,50,50,0.75)"}, {"offset": 0.568, "color": "rgba(50,50,50,0.75)"}, {"offset": 0.568, "color": "rgba(170,170,170,0.15)"}, {"offset": 0.6, "color": "rgba(170,170,170,0.15)"}, {"offset": 0.6, "color": "rgba(50,50,50,0.75)"}, {"offset": 0.618, "color": "rgba(50,50,50,0.75)"}, {"offset": 0.618, "color": "rgba(170,170,170,0.15)"}, {"offset": 0.65, "color": "rgba(170,170,170,0.15)"}, {"offset": 0.65, "color": "rgba(50,50,50,0.75)"}, {"offset": 0.668, "color": "rgba(50,50,50,0.75)"}, {"offset": 0.668, "color": "rgba(170,170,170,0.15)"}, {"offset": 0.7, "color": "rgba(170,170,170,0.15)"}, {"offset": 0.7, "color": "rgba(50,50,50,0.75)"}, {"offset": 0.718, "color": "rgba(50,50,50,0.75)"}, {"offset": 0.718, "color": "rgba(170,170,170,0.15)"}, {"offset": 0.75, "color": "rgba(170,170,170,0.15)"}, {"offset": 0.75, "color": "rgba(50,50,50,0.75)"}, {"offset": 0.768, "color": "rgba(50,50,50,0.75)"}, {"offset": 0.768, "color": "rgba(170,170,170,0.15)"}, {"offset": 0.8, "color": "rgba(170,170,170,0.15)"}, {"offset": 0.8, "color": "rgba(50,50,50,0.75)"}, {"offset": 0.818, "color": "rgba(50,50,50,0.75)"}, {"offset": 0.818, "color": "rgba(170,170,170,0.15)"}, {"offset": 0.85, "color": "rgba(170,170,170,0.15)"}, {"offset": 0.85, "color": "rgba(50,50,50,0.75)"}, {"offset": 0.868, "color": "rgba(50,50,50,0.75)"}, {"offset": 0.868, "color": "rgba(170,170,170,0.15)"}, {"offset": 0.9, "color": "rgba(170,170,170,0.15)"}, {"offset": 0.9, "color": "rgba(50,50,50,0.75)"}, {"offset": 0.918, "color": "rgba(50,50,50,0.75)"}, {"offset": 0.918, "color": "rgba(170,170,170,0.15)"}, {"offset": 0.95, "color": "rgba(170,170,170,0.15)"}, {"offset": 0.95, "color": "rgba(50,50,50,0.75)"}, {"offset": 0.968, "color": "rgba(50,50,50,0.75)"}, {"offset": 0.968, "color": "rgba(170,170,170,0.15)"}, {"offset": 1, "color": "rgba(170,170,170,0.15)"}]}},
                  "encoding": {
                    "x": {"field": "bin", "type": "ordinal", "axis": {"orient": "top", "labels": false, "title": null, "tickBand": "extent", "tickExtra": true}},
                    "y": {"field": "smLo", "type": "quantitative", "axis": {"orient": "right", "values": [100, 200, 300, 400, 500], "labels": false, "title": null}},
                    "y2": {"field": "smHi"}
                  }
                },
                {
                  "mark": {"type": "line", "interpolate": "step", "color": "#e3001b", "strokeWidth": 1.6, "clip": true},
                  "encoding": {"x": {"field": "bin", "type": "ordinal", "axis": null}, "y": {"field": "sm", "type": "quantitative", "axis": null}}
                },
                {
                  "mark": {"type": "bar", "filled": false, "color": "#e3001b", "strokeWidth": 1.6, "clip": true},
                  "encoding": {"x": {"field": "bin", "type": "ordinal", "axis": null}, "y": {"field": "sm", "type": "quantitative", "axis": null}, "y2": {"field": "sm"}}
                },
                {
                  "transform": [{"filter": "datum.data != null"}],
                  "mark": {"type": "rule", "color": "black", "strokeWidth": 1, "clip": true},
                  "encoding": {"x": {"field": "bin", "type": "ordinal", "axis": null}, "y": {"field": "dataLo", "type": "quantitative", "axis": null}, "y2": {"field": "dataHi"}}
                },
                {
                  "transform": [{"filter": "datum.data != null"}],
                  "mark": {"type": "circle", "color": "black", "size": 26, "opacity": 1, "clip": true},
                  "encoding": {"x": {"field": "bin", "type": "ordinal", "axis": null}, "y": {"field": "data", "type": "quantitative", "axis": null}}
                },
                {
                  "data": {"values": [{}]},
                  "mark": {"type": "text", "text": "ATLAS", "fontSize": 10, "fontWeight": "bold", "fontStyle": "italic", "align": "left", "baseline": "alphabetic", "dx": -4},
                  "encoding": {"x": {"datum": 8, "type": "ordinal", "axis": null}, "y": {"datum": 275, "type": "quantitative", "axis": null}}
                },
                {
                  "data": {"values": [{}]},
                  "mark": {"type": "text", "text": "\u221as = 13 TeV, 36.1 fb\u207b\u00b9", "fontSize": 8, "align": "left", "baseline": "alphabetic", "dx": -4, "dy": 12},
                  "encoding": {"x": {"datum": 8, "type": "ordinal", "axis": null}, "y": {"datum": 275, "type": "quantitative", "axis": null}}
                },
                {
                  "data": {"values": [{}]},
                  "mark": {"type": "text", "text": "CR", "fontSize": 9, "align": "left", "baseline": "alphabetic", "dx": -4, "dy": 26.7},
                  "encoding": {"x": {"datum": 8, "type": "ordinal", "axis": null}, "y": {"datum": 275, "type": "quantitative", "axis": null}}
                },
                {
                  "data": {"values": [{}]},
                  "mark": {"type": "text", "text": "1l4b", "fontSize": 5.5, "align": "left", "baseline": "alphabetic", "dx": 9.5, "dy": 19},
                  "encoding": {"x": {"datum": 8, "type": "ordinal", "axis": null}, "y": {"datum": 275, "type": "quantitative", "axis": null}}
                },
                {
                  "data": {"values": [{}]},
                  "mark": {"type": "text", "text": "tt\u0305, B", "fontSize": 5.5, "align": "left", "baseline": "alphabetic", "dx": 9.5, "dy": 29},
                  "encoding": {"x": {"datum": 8, "type": "ordinal", "axis": null}, "y": {"datum": 275, "type": "quantitative", "axis": null}}
                }
              ],
              "resolve": {"axis": {"x": "independent", "y": "independent"}}
            },
            {
              "width": 246, "height": 48,
              "data": {"name": "regionB"},
              "layer": [
                {
                  "mark": {"type": "bar", "clip": true, "fill": {"gradient": "linear", "x1": 0, "y1": 1, "x2": 1, "y2": 0, "stops": [{"offset": 0, "color": "rgba(50,50,50,0.75)"}, {"offset": 0.018, "color": "rgba(50,50,50,0.75)"}, {"offset": 0.018, "color": "rgba(170,170,170,0.15)"}, {"offset": 0.05, "color": "rgba(170,170,170,0.15)"}, {"offset": 0.05, "color": "rgba(50,50,50,0.75)"}, {"offset": 0.068, "color": "rgba(50,50,50,0.75)"}, {"offset": 0.068, "color": "rgba(170,170,170,0.15)"}, {"offset": 0.1, "color": "rgba(170,170,170,0.15)"}, {"offset": 0.1, "color": "rgba(50,50,50,0.75)"}, {"offset": 0.118, "color": "rgba(50,50,50,0.75)"}, {"offset": 0.118, "color": "rgba(170,170,170,0.15)"}, {"offset": 0.15, "color": "rgba(170,170,170,0.15)"}, {"offset": 0.15, "color": "rgba(50,50,50,0.75)"}, {"offset": 0.168, "color": "rgba(50,50,50,0.75)"}, {"offset": 0.168, "color": "rgba(170,170,170,0.15)"}, {"offset": 0.2, "color": "rgba(170,170,170,0.15)"}, {"offset": 0.2, "color": "rgba(50,50,50,0.75)"}, {"offset": 0.218, "color": "rgba(50,50,50,0.75)"}, {"offset": 0.218, "color": "rgba(170,170,170,0.15)"}, {"offset": 0.25, "color": "rgba(170,170,170,0.15)"}, {"offset": 0.25, "color": "rgba(50,50,50,0.75)"}, {"offset": 0.268, "color": "rgba(50,50,50,0.75)"}, {"offset": 0.268, "color": "rgba(170,170,170,0.15)"}, {"offset": 0.3, "color": "rgba(170,170,170,0.15)"}, {"offset": 0.3, "color": "rgba(50,50,50,0.75)"}, {"offset": 0.318, "color": "rgba(50,50,50,0.75)"}, {"offset": 0.318, "color": "rgba(170,170,170,0.15)"}, {"offset": 0.35, "color": "rgba(170,170,170,0.15)"}, {"offset": 0.35, "color": "rgba(50,50,50,0.75)"}, {"offset": 0.368, "color": "rgba(50,50,50,0.75)"}, {"offset": 0.368, "color": "rgba(170,170,170,0.15)"}, {"offset": 0.4, "color": "rgba(170,170,170,0.15)"}, {"offset": 0.4, "color": "rgba(50,50,50,0.75)"}, {"offset": 0.418, "color": "rgba(50,50,50,0.75)"}, {"offset": 0.418, "color": "rgba(170,170,170,0.15)"}, {"offset": 0.45, "color": "rgba(170,170,170,0.15)"}, {"offset": 0.45, "color": "rgba(50,50,50,0.75)"}, {"offset": 0.468, "color": "rgba(50,50,50,0.75)"}, {"offset": 0.468, "color": "rgba(170,170,170,0.15)"}, {"offset": 0.5, "color": "rgba(170,170,170,0.15)"}, {"offset": 0.5, "color": "rgba(50,50,50,0.75)"}, {"offset": 0.518, "color": "rgba(50,50,50,0.75)"}, {"offset": 0.518, "color": "rgba(170,170,170,0.15)"}, {"offset": 0.55, "color": "rgba(170,170,170,0.15)"}, {"offset": 0.55, "color": "rgba(50,50,50,0.75)"}, {"offset": 0.568, "color": "rgba(50,50,50,0.75)"}, {"offset": 0.568, "color": "rgba(170,170,170,0.15)"}, {"offset": 0.6, "color": "rgba(170,170,170,0.15)"}, {"offset": 0.6, "color": "rgba(50,50,50,0.75)"}, {"offset": 0.618, "color": "rgba(50,50,50,0.75)"}, {"offset": 0.618, "color": "rgba(170,170,170,0.15)"}, {"offset": 0.65, "color": "rgba(170,170,170,0.15)"}, {"offset": 0.65, "color": "rgba(50,50,50,0.75)"}, {"offset": 0.668, "color": "rgba(50,50,50,0.75)"}, {"offset": 0.668, "color": "rgba(170,170,170,0.15)"}, {"offset": 0.7, "color": "rgba(170,170,170,0.15)"}, {"offset": 0.7, "color": "rgba(50,50,50,0.75)"}, {"offset": 0.718, "color": "rgba(50,50,50,0.75)"}, {"offset": 0.718, "color": "rgba(170,170,170,0.15)"}, {"offset": 0.75, "color": "rgba(170,170,170,0.15)"}, {"offset": 0.75, "color": "rgba(50,50,50,0.75)"}, {"offset": 0.768, "color": "rgba(50,50,50,0.75)"}, {"offset": 0.768, "color": "rgba(170,170,170,0.15)"}, {"offset": 0.8, "color": "rgba(170,170,170,0.15)"}, {"offset": 0.8, "color": "rgba(50,50,50,0.75)"}, {"offset": 0.818, "color": "rgba(50,50,50,0.75)"}, {"offset": 0.818, "color": "rgba(170,170,170,0.15)"}, {"offset": 0.85, "color": "rgba(170,170,170,0.15)"}, {"offset": 0.85, "color": "rgba(50,50,50,0.75)"}, {"offset": 0.868, "color": "rgba(50,50,50,0.75)"}, {"offset": 0.868, "color": "rgba(170,170,170,0.15)"}, {"offset": 0.9, "color": "rgba(170,170,170,0.15)"}, {"offset": 0.9, "color": "rgba(50,50,50,0.75)"}, {"offset": 0.918, "color": "rgba(50,50,50,0.75)"}, {"offset": 0.918, "color": "rgba(170,170,170,0.15)"}, {"offset": 0.95, "color": "rgba(170,170,170,0.15)"}, {"offset": 0.95, "color": "rgba(50,50,50,0.75)"}, {"offset": 0.968, "color": "rgba(50,50,50,0.75)"}, {"offset": 0.968, "color": "rgba(170,170,170,0.15)"}, {"offset": 1, "color": "rgba(170,170,170,0.15)"}]}},
                  "encoding": {
                    "x": {"field": "bin", "type": "ordinal", "scale": {"domain": [4, 5, 6, 7, 8, 9, 10, 11], "paddingInner": 0, "paddingOuter": 0}, "axis": {"orient": "bottom", "labelAngle": 0, "title": "Jet multiplicity (p\u209c > 60 GeV)", "titleAnchor": "end", "tickBand": "extent", "tickExtra": true}},
                    "y": {"field": "bandLo", "type": "quantitative", "scale": {"domain": [0, 2.15], "nice": false}, "axis": {"orient": "left", "format": "d", "values": [0, 0.5, 1, 1.5, 2], "labelExpr": "datum.value % 1 === 0 ? datum.label : ''", "grid": true, "gridDash": [2, 2], "gridColor": "#999999", "title": "Data / SM", "titlePadding": 12}},
                    "y2": {"field": "bandHi"}
                  }
                },
                {
                  "transform": [{"filter": "datum.ratio != null"}],
                  "mark": {"type": "rule", "color": "black", "strokeWidth": 1, "clip": true},
                  "encoding": {
                    "x": {"field": "bin", "type": "ordinal", "axis": {"orient": "top", "labels": false, "title": null, "tickBand": "extent", "tickExtra": true}},
                    "y": {"field": "ratioLo", "type": "quantitative", "axis": {"orient": "right", "values": [0.5, 1, 1.5, 2], "labels": false, "title": null}},
                    "y2": {"field": "ratioHi"}
                  }
                },
                {
                  "transform": [{"filter": "datum.ratio != null"}],
                  "mark": {"type": "circle", "color": "black", "size": 26, "opacity": 1, "clip": true},
                  "encoding": {"x": {"field": "bin", "type": "ordinal", "axis": null}, "y": {"field": "ratio", "type": "quantitative", "axis": null}}
                }
              ],
              "resolve": {"axis": {"x": "independent", "y": "independent"}}
            }
          ],
          "spacing": 4,
          "resolve": {"scale": {"color": "independent"}, "legend": {"color": "independent"}}
        }
      ],
      "spacing": 44,
      "resolve": {"scale": {"color": "independent"}, "legend": {"color": "independent"}}
    },
    {
      "title": {"text": "(c)", "orient": "bottom", "anchor": "middle", "frame": "bounds", "offset": 12, "dx": -2},
      "vconcat": [
        {
          "width": 246, "height": 170,
          "data": {"name": "regionC"},
          "layer": [
            {
              "transform": [
                {"fold": ["ttv", "vjets", "tth", "singletop", "others", "ttbar"], "as": ["process", "n"]},
                {"window": [{"op": "row_number", "as": "k"}], "groupby": ["bin"]}
              ],
              "mark": {"type": "bar", "clip": true},
              "encoding": {
                "x": {"field": "bin", "type": "ordinal", "scale": {"domain": [4, 5, 6, 7, 8, 9, 10, 11], "paddingInner": 0, "paddingOuter": 0}, "axis": {"orient": "bottom", "labels": false, "title": null, "tickBand": "extent", "tickExtra": true}},
                "y": {"field": "n", "type": "quantitative", "stack": "zero", "scale": {"domain": [0, 2050], "nice": false}, "axis": {"orient": "left", "format": "d", "values": [200, 400, 600, 800, 1000, 1200, 1400, 1600, 1800, 2000], "title": "Events", "titleAnchor": "end", "titlePadding": 4}},
                "color": {"field": "process", "type": "nominal",
                  "scale": {"domain": ["data", "total", "ttbar", "singletop", "tth", "vjets", "ttv", "others"], "range": ["#000000", "#e3001b", "#3399ff", "#ff6600", "#cc0033", "#33cc00", "#0000cc", "#cccccc"]},
                  "legend": {"title": null, "orient": "none", "legendX": 116, "legendY": 6,
                    "labelExpr": "({'data': 'Data', 'total': 'Total SM Background', 'ttbar': 'tt\u0305', 'singletop': 'Single top', 'tth': 'tt\u0305h, Vh', 'vjets': 'V+jets, multi-boson', 'ttv': 'tt\u0305W, tt\u0305Z', 'others': 'Others'})[datum.value]",
                    "encode": {"symbols": {"update": {
                      "shape": {"signal": "datum.value === 'data' ? 'circle' : 'M-2.5,-0.75H2.5V0.75H-2.5Z'"},
                      "size": {"signal": "datum.value === 'data' ? 14 : 64"},
                      "fill": {"signal": "datum.value === 'total' ? {gradient: 'linear', x1: 0, y1: 1, x2: 1, y2: 0, stops: [{offset: 0, color: '#e3001b'}, {offset: 0.05, color: '#e3001b'}, {offset: 0.05, color: '#ffffff'}, {offset: 0.1667, color: '#ffffff'}, {offset: 0.1667, color: '#e3001b'}, {offset: 0.2167, color: '#e3001b'}, {offset: 0.2167, color: '#ffffff'}, {offset: 0.3333, color: '#ffffff'}, {offset: 0.3333, color: '#e3001b'}, {offset: 0.3833, color: '#e3001b'}, {offset: 0.3833, color: '#ffffff'}, {offset: 0.5, color: '#ffffff'}, {offset: 0.5, color: '#e3001b'}, {offset: 0.55, color: '#e3001b'}, {offset: 0.55, color: '#ffffff'}, {offset: 0.6667, color: '#ffffff'}, {offset: 0.6667, color: '#e3001b'}, {offset: 0.7167, color: '#e3001b'}, {offset: 0.7167, color: '#ffffff'}, {offset: 0.8333, color: '#ffffff'}, {offset: 0.8333, color: '#e3001b'}, {offset: 0.8833, color: '#e3001b'}, {offset: 0.8833, color: '#ffffff'}, {offset: 1, color: '#ffffff'}]} : datum.value === 'data' ? '#000000' : datum.value === 'ttbar' ? '#3399ff' : datum.value === 'singletop' ? '#ff6600' : datum.value === 'tth' ? '#cc0033' : datum.value === 'vjets' ? '#33cc00' : datum.value === 'ttv' ? '#0000cc' : '#cccccc'"},
                      "strokeWidth": {"value": 0},
                      "opacity": {"value": 1}
                    }}}
                  }
                },
                "order": {"field": "k", "type": "quantitative"}
              }
            },
            {
              "mark": {"type": "bar", "clip": true, "fill": {"gradient": "linear", "x1": 0, "y1": 1, "x2": 1, "y2": 0, "stops": [{"offset": 0, "color": "rgba(50,50,50,0.75)"}, {"offset": 0.018, "color": "rgba(50,50,50,0.75)"}, {"offset": 0.018, "color": "rgba(170,170,170,0.15)"}, {"offset": 0.05, "color": "rgba(170,170,170,0.15)"}, {"offset": 0.05, "color": "rgba(50,50,50,0.75)"}, {"offset": 0.068, "color": "rgba(50,50,50,0.75)"}, {"offset": 0.068, "color": "rgba(170,170,170,0.15)"}, {"offset": 0.1, "color": "rgba(170,170,170,0.15)"}, {"offset": 0.1, "color": "rgba(50,50,50,0.75)"}, {"offset": 0.118, "color": "rgba(50,50,50,0.75)"}, {"offset": 0.118, "color": "rgba(170,170,170,0.15)"}, {"offset": 0.15, "color": "rgba(170,170,170,0.15)"}, {"offset": 0.15, "color": "rgba(50,50,50,0.75)"}, {"offset": 0.168, "color": "rgba(50,50,50,0.75)"}, {"offset": 0.168, "color": "rgba(170,170,170,0.15)"}, {"offset": 0.2, "color": "rgba(170,170,170,0.15)"}, {"offset": 0.2, "color": "rgba(50,50,50,0.75)"}, {"offset": 0.218, "color": "rgba(50,50,50,0.75)"}, {"offset": 0.218, "color": "rgba(170,170,170,0.15)"}, {"offset": 0.25, "color": "rgba(170,170,170,0.15)"}, {"offset": 0.25, "color": "rgba(50,50,50,0.75)"}, {"offset": 0.268, "color": "rgba(50,50,50,0.75)"}, {"offset": 0.268, "color": "rgba(170,170,170,0.15)"}, {"offset": 0.3, "color": "rgba(170,170,170,0.15)"}, {"offset": 0.3, "color": "rgba(50,50,50,0.75)"}, {"offset": 0.318, "color": "rgba(50,50,50,0.75)"}, {"offset": 0.318, "color": "rgba(170,170,170,0.15)"}, {"offset": 0.35, "color": "rgba(170,170,170,0.15)"}, {"offset": 0.35, "color": "rgba(50,50,50,0.75)"}, {"offset": 0.368, "color": "rgba(50,50,50,0.75)"}, {"offset": 0.368, "color": "rgba(170,170,170,0.15)"}, {"offset": 0.4, "color": "rgba(170,170,170,0.15)"}, {"offset": 0.4, "color": "rgba(50,50,50,0.75)"}, {"offset": 0.418, "color": "rgba(50,50,50,0.75)"}, {"offset": 0.418, "color": "rgba(170,170,170,0.15)"}, {"offset": 0.45, "color": "rgba(170,170,170,0.15)"}, {"offset": 0.45, "color": "rgba(50,50,50,0.75)"}, {"offset": 0.468, "color": "rgba(50,50,50,0.75)"}, {"offset": 0.468, "color": "rgba(170,170,170,0.15)"}, {"offset": 0.5, "color": "rgba(170,170,170,0.15)"}, {"offset": 0.5, "color": "rgba(50,50,50,0.75)"}, {"offset": 0.518, "color": "rgba(50,50,50,0.75)"}, {"offset": 0.518, "color": "rgba(170,170,170,0.15)"}, {"offset": 0.55, "color": "rgba(170,170,170,0.15)"}, {"offset": 0.55, "color": "rgba(50,50,50,0.75)"}, {"offset": 0.568, "color": "rgba(50,50,50,0.75)"}, {"offset": 0.568, "color": "rgba(170,170,170,0.15)"}, {"offset": 0.6, "color": "rgba(170,170,170,0.15)"}, {"offset": 0.6, "color": "rgba(50,50,50,0.75)"}, {"offset": 0.618, "color": "rgba(50,50,50,0.75)"}, {"offset": 0.618, "color": "rgba(170,170,170,0.15)"}, {"offset": 0.65, "color": "rgba(170,170,170,0.15)"}, {"offset": 0.65, "color": "rgba(50,50,50,0.75)"}, {"offset": 0.668, "color": "rgba(50,50,50,0.75)"}, {"offset": 0.668, "color": "rgba(170,170,170,0.15)"}, {"offset": 0.7, "color": "rgba(170,170,170,0.15)"}, {"offset": 0.7, "color": "rgba(50,50,50,0.75)"}, {"offset": 0.718, "color": "rgba(50,50,50,0.75)"}, {"offset": 0.718, "color": "rgba(170,170,170,0.15)"}, {"offset": 0.75, "color": "rgba(170,170,170,0.15)"}, {"offset": 0.75, "color": "rgba(50,50,50,0.75)"}, {"offset": 0.768, "color": "rgba(50,50,50,0.75)"}, {"offset": 0.768, "color": "rgba(170,170,170,0.15)"}, {"offset": 0.8, "color": "rgba(170,170,170,0.15)"}, {"offset": 0.8, "color": "rgba(50,50,50,0.75)"}, {"offset": 0.818, "color": "rgba(50,50,50,0.75)"}, {"offset": 0.818, "color": "rgba(170,170,170,0.15)"}, {"offset": 0.85, "color": "rgba(170,170,170,0.15)"}, {"offset": 0.85, "color": "rgba(50,50,50,0.75)"}, {"offset": 0.868, "color": "rgba(50,50,50,0.75)"}, {"offset": 0.868, "color": "rgba(170,170,170,0.15)"}, {"offset": 0.9, "color": "rgba(170,170,170,0.15)"}, {"offset": 0.9, "color": "rgba(50,50,50,0.75)"}, {"offset": 0.918, "color": "rgba(50,50,50,0.75)"}, {"offset": 0.918, "color": "rgba(170,170,170,0.15)"}, {"offset": 0.95, "color": "rgba(170,170,170,0.15)"}, {"offset": 0.95, "color": "rgba(50,50,50,0.75)"}, {"offset": 0.968, "color": "rgba(50,50,50,0.75)"}, {"offset": 0.968, "color": "rgba(170,170,170,0.15)"}, {"offset": 1, "color": "rgba(170,170,170,0.15)"}]}},
              "encoding": {
                "x": {"field": "bin", "type": "ordinal", "axis": {"orient": "top", "labels": false, "title": null, "tickBand": "extent", "tickExtra": true}},
                "y": {"field": "smLo", "type": "quantitative", "axis": {"orient": "right", "values": [200, 400, 600, 800, 1000, 1200, 1400, 1600, 1800, 2000], "labels": false, "title": null}},
                "y2": {"field": "smHi"}
              }
            },
            {
              "mark": {"type": "line", "interpolate": "step", "color": "#e3001b", "strokeWidth": 1.6, "clip": true},
              "encoding": {"x": {"field": "bin", "type": "ordinal", "axis": null}, "y": {"field": "sm", "type": "quantitative", "axis": null}}
            },
            {
              "mark": {"type": "bar", "filled": false, "color": "#e3001b", "strokeWidth": 1.6, "clip": true},
              "encoding": {"x": {"field": "bin", "type": "ordinal", "axis": null}, "y": {"field": "sm", "type": "quantitative", "axis": null}, "y2": {"field": "sm"}}
            },
            {
              "transform": [{"filter": "datum.data != null"}],
              "mark": {"type": "rule", "color": "black", "strokeWidth": 1, "clip": true},
              "encoding": {"x": {"field": "bin", "type": "ordinal", "axis": null}, "y": {"field": "dataLo", "type": "quantitative", "axis": null}, "y2": {"field": "dataHi"}}
            },
            {
              "transform": [{"filter": "datum.data != null"}],
              "mark": {"type": "circle", "color": "black", "size": 26, "opacity": 1, "clip": true},
              "encoding": {"x": {"field": "bin", "type": "ordinal", "axis": null}, "y": {"field": "data", "type": "quantitative", "axis": null}}
            },
            {
              "data": {"values": [{}]},
              "mark": {"type": "text", "text": "ATLAS", "fontSize": 10, "fontWeight": "bold", "fontStyle": "italic", "align": "left", "baseline": "alphabetic", "dx": -4},
              "encoding": {"x": {"datum": 8, "type": "ordinal", "axis": null}, "y": {"datum": 967, "type": "quantitative", "axis": null}}
            },
            {
              "data": {"values": [{}]},
              "mark": {"type": "text", "text": "\u221as = 13 TeV, 36.1 fb\u207b\u00b9", "fontSize": 8, "align": "left", "baseline": "alphabetic", "dx": -4, "dy": 12},
              "encoding": {"x": {"datum": 8, "type": "ordinal", "axis": null}, "y": {"datum": 967, "type": "quantitative", "axis": null}}
            },
            {
              "data": {"values": [{}]},
              "mark": {"type": "text", "text": "CR", "fontSize": 9, "align": "left", "baseline": "alphabetic", "dx": -4, "dy": 26.7},
              "encoding": {"x": {"datum": 8, "type": "ordinal", "axis": null}, "y": {"datum": 967, "type": "quantitative", "axis": null}}
            },
            {
              "data": {"values": [{}]},
              "mark": {"type": "text", "text": "1l4b", "fontSize": 5.5, "align": "left", "baseline": "alphabetic", "dx": 9.5, "dy": 19},
              "encoding": {"x": {"datum": 8, "type": "ordinal", "axis": null}, "y": {"datum": 967, "type": "quantitative", "axis": null}}
            },
            {
              "data": {"values": [{}]},
              "mark": {"type": "text", "text": "tt\u0305, C", "fontSize": 5.5, "align": "left", "baseline": "alphabetic", "dx": 9.5, "dy": 29},
              "encoding": {"x": {"datum": 8, "type": "ordinal", "axis": null}, "y": {"datum": 967, "type": "quantitative", "axis": null}}
            }
          ],
          "resolve": {"axis": {"x": "independent", "y": "independent"}}
        },
        {
          "width": 246, "height": 48,
          "data": {"name": "regionC"},
          "layer": [
            {
              "mark": {"type": "bar", "clip": true, "fill": {"gradient": "linear", "x1": 0, "y1": 1, "x2": 1, "y2": 0, "stops": [{"offset": 0, "color": "rgba(50,50,50,0.75)"}, {"offset": 0.018, "color": "rgba(50,50,50,0.75)"}, {"offset": 0.018, "color": "rgba(170,170,170,0.15)"}, {"offset": 0.05, "color": "rgba(170,170,170,0.15)"}, {"offset": 0.05, "color": "rgba(50,50,50,0.75)"}, {"offset": 0.068, "color": "rgba(50,50,50,0.75)"}, {"offset": 0.068, "color": "rgba(170,170,170,0.15)"}, {"offset": 0.1, "color": "rgba(170,170,170,0.15)"}, {"offset": 0.1, "color": "rgba(50,50,50,0.75)"}, {"offset": 0.118, "color": "rgba(50,50,50,0.75)"}, {"offset": 0.118, "color": "rgba(170,170,170,0.15)"}, {"offset": 0.15, "color": "rgba(170,170,170,0.15)"}, {"offset": 0.15, "color": "rgba(50,50,50,0.75)"}, {"offset": 0.168, "color": "rgba(50,50,50,0.75)"}, {"offset": 0.168, "color": "rgba(170,170,170,0.15)"}, {"offset": 0.2, "color": "rgba(170,170,170,0.15)"}, {"offset": 0.2, "color": "rgba(50,50,50,0.75)"}, {"offset": 0.218, "color": "rgba(50,50,50,0.75)"}, {"offset": 0.218, "color": "rgba(170,170,170,0.15)"}, {"offset": 0.25, "color": "rgba(170,170,170,0.15)"}, {"offset": 0.25, "color": "rgba(50,50,50,0.75)"}, {"offset": 0.268, "color": "rgba(50,50,50,0.75)"}, {"offset": 0.268, "color": "rgba(170,170,170,0.15)"}, {"offset": 0.3, "color": "rgba(170,170,170,0.15)"}, {"offset": 0.3, "color": "rgba(50,50,50,0.75)"}, {"offset": 0.318, "color": "rgba(50,50,50,0.75)"}, {"offset": 0.318, "color": "rgba(170,170,170,0.15)"}, {"offset": 0.35, "color": "rgba(170,170,170,0.15)"}, {"offset": 0.35, "color": "rgba(50,50,50,0.75)"}, {"offset": 0.368, "color": "rgba(50,50,50,0.75)"}, {"offset": 0.368, "color": "rgba(170,170,170,0.15)"}, {"offset": 0.4, "color": "rgba(170,170,170,0.15)"}, {"offset": 0.4, "color": "rgba(50,50,50,0.75)"}, {"offset": 0.418, "color": "rgba(50,50,50,0.75)"}, {"offset": 0.418, "color": "rgba(170,170,170,0.15)"}, {"offset": 0.45, "color": "rgba(170,170,170,0.15)"}, {"offset": 0.45, "color": "rgba(50,50,50,0.75)"}, {"offset": 0.468, "color": "rgba(50,50,50,0.75)"}, {"offset": 0.468, "color": "rgba(170,170,170,0.15)"}, {"offset": 0.5, "color": "rgba(170,170,170,0.15)"}, {"offset": 0.5, "color": "rgba(50,50,50,0.75)"}, {"offset": 0.518, "color": "rgba(50,50,50,0.75)"}, {"offset": 0.518, "color": "rgba(170,170,170,0.15)"}, {"offset": 0.55, "color": "rgba(170,170,170,0.15)"}, {"offset": 0.55, "color": "rgba(50,50,50,0.75)"}, {"offset": 0.568, "color": "rgba(50,50,50,0.75)"}, {"offset": 0.568, "color": "rgba(170,170,170,0.15)"}, {"offset": 0.6, "color": "rgba(170,170,170,0.15)"}, {"offset": 0.6, "color": "rgba(50,50,50,0.75)"}, {"offset": 0.618, "color": "rgba(50,50,50,0.75)"}, {"offset": 0.618, "color": "rgba(170,170,170,0.15)"}, {"offset": 0.65, "color": "rgba(170,170,170,0.15)"}, {"offset": 0.65, "color": "rgba(50,50,50,0.75)"}, {"offset": 0.668, "color": "rgba(50,50,50,0.75)"}, {"offset": 0.668, "color": "rgba(170,170,170,0.15)"}, {"offset": 0.7, "color": "rgba(170,170,170,0.15)"}, {"offset": 0.7, "color": "rgba(50,50,50,0.75)"}, {"offset": 0.718, "color": "rgba(50,50,50,0.75)"}, {"offset": 0.718, "color": "rgba(170,170,170,0.15)"}, {"offset": 0.75, "color": "rgba(170,170,170,0.15)"}, {"offset": 0.75, "color": "rgba(50,50,50,0.75)"}, {"offset": 0.768, "color": "rgba(50,50,50,0.75)"}, {"offset": 0.768, "color": "rgba(170,170,170,0.15)"}, {"offset": 0.8, "color": "rgba(170,170,170,0.15)"}, {"offset": 0.8, "color": "rgba(50,50,50,0.75)"}, {"offset": 0.818, "color": "rgba(50,50,50,0.75)"}, {"offset": 0.818, "color": "rgba(170,170,170,0.15)"}, {"offset": 0.85, "color": "rgba(170,170,170,0.15)"}, {"offset": 0.85, "color": "rgba(50,50,50,0.75)"}, {"offset": 0.868, "color": "rgba(50,50,50,0.75)"}, {"offset": 0.868, "color": "rgba(170,170,170,0.15)"}, {"offset": 0.9, "color": "rgba(170,170,170,0.15)"}, {"offset": 0.9, "color": "rgba(50,50,50,0.75)"}, {"offset": 0.918, "color": "rgba(50,50,50,0.75)"}, {"offset": 0.918, "color": "rgba(170,170,170,0.15)"}, {"offset": 0.95, "color": "rgba(170,170,170,0.15)"}, {"offset": 0.95, "color": "rgba(50,50,50,0.75)"}, {"offset": 0.968, "color": "rgba(50,50,50,0.75)"}, {"offset": 0.968, "color": "rgba(170,170,170,0.15)"}, {"offset": 1, "color": "rgba(170,170,170,0.15)"}]}},
              "encoding": {
                "x": {"field": "bin", "type": "ordinal", "scale": {"domain": [4, 5, 6, 7, 8, 9, 10, 11], "paddingInner": 0, "paddingOuter": 0}, "axis": {"orient": "bottom", "labelAngle": 0, "title": "Jet multiplicity (p\u209c > 30 GeV)", "titleAnchor": "end", "tickBand": "extent", "tickExtra": true}},
                "y": {"field": "bandLo", "type": "quantitative", "scale": {"domain": [0, 2.15], "nice": false}, "axis": {"orient": "left", "format": "d", "values": [0, 0.5, 1, 1.5, 2], "labelExpr": "datum.value % 1 === 0 ? datum.label : ''", "grid": true, "gridDash": [2, 2], "gridColor": "#999999", "title": "Data / SM", "titlePadding": 12}},
                "y2": {"field": "bandHi"}
              }
            },
            {
              "transform": [{"filter": "datum.ratio != null"}],
              "mark": {"type": "rule", "color": "black", "strokeWidth": 1, "clip": true},
              "encoding": {
                "x": {"field": "bin", "type": "ordinal", "axis": {"orient": "top", "labels": false, "title": null, "tickBand": "extent", "tickExtra": true}},
                "y": {"field": "ratioLo", "type": "quantitative", "axis": {"orient": "right", "values": [0.5, 1, 1.5, 2], "labels": false, "title": null}},
                "y2": {"field": "ratioHi"}
              }
            },
            {
              "transform": [{"filter": "datum.ratio != null"}],
              "mark": {"type": "circle", "color": "black", "size": 26, "opacity": 1, "clip": true},
              "encoding": {"x": {"field": "bin", "type": "ordinal", "axis": null}, "y": {"field": "ratio", "type": "quantitative", "axis": null}}
            }
          ],
          "resolve": {"axis": {"x": "independent", "y": "independent"}}
        }
      ],
      "spacing": 4,
      "resolve": {"scale": {"color": "independent"}, "legend": {"color": "independent"}}
    }
  ],
  "spacing": 18, "center": true,
  "resolve": {"scale": {"color": "independent"}, "legend": {"color": "independent"}},
  "config": {
    "view": {"stroke": "black", "strokeWidth": 1},
    "font": "Liberation Sans",
    "axis": {"domain": false, "grid": false, "tickColor": "black", "tickSize": -5, "labelColor": "black", "labelFont": "Liberation Sans", "labelFontSize": 8.5, "labelPadding": 7, "titleColor": "black", "titleFont": "Liberation Sans", "titleFontSize": 9, "titleFontWeight": "normal"},
    "legend": {"padding": 0, "labelFont": "Liberation Sans", "labelFontSize": 7.2, "labelColor": "black", "symbolSize": 64, "rowPadding": 0.8, "labelOffset": 10},
    "text": {"font": "Liberation Sans", "color": "black"},
    "title": {"font": "DejaVu Serif", "fontSize": 11, "fontWeight": "bold", "color": "black"}
  }
}
